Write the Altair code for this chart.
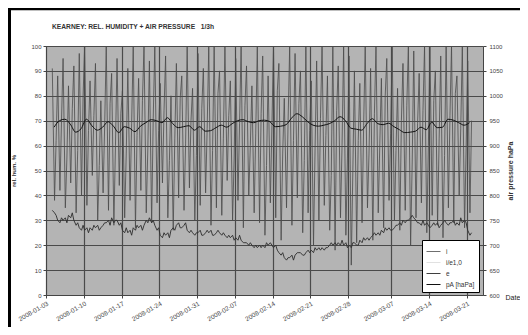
import altair as alt
import pandas as pd

# daily sample dates (humidity max ~04h, min ~14h, evening ~21h; pressure at noon)
days = pd.date_range("2008-01-04", "2008-03-21", freq="D")

rh_max = [91, 88, 95, 84, 92, 97, 100, 86, 93, 78, 100, 89, 95, 82, 91, 100, 87, 100, 94, 100,
          85, 96, 80, 93, 88, 100, 83, 97,
          91, 100, 100, 90, 100, 86, 95, 100, 92, 84, 100, 96, 88, 100, 93, 79, 100, 97, 90, 100,
          86, 94, 100, 88, 100, 92, 100, 96, 90,
          85, 100, 91, 100, 87, 95, 100, 83, 93, 100, 98, 89, 100, 100, 90, 96, 100, 100, 88, 100, 94]
rh_min = [38, 42, 35, 45, 33, 40, 36, 48, 30, 41, 34, 28, 44, 31, 38, 27, 42, 33, 29, 37,
          45, 31, 26, 39, 34, 43, 30, 36,
          41, 28, 35, 32, 46, 30, 38, 27, 40, 33, 29, 24, 37, 31, 22, 35, 28, 39, 25, 33,
          20, 30, 36, 26, 18, 31, 24, 12, 21,
          29, 35, 22, 33, 27, 38, 30, 26, 34, 20, 31, 37, 25, 32, 28, 23, 35, 29, 40, 27, 33]
rh_eve = [62, 70, 55, 75, 58, 80, 66, 72, 52, 68, 77, 60, 73, 57, 69, 64, 78, 59, 71, 66,
          74, 54, 63, 79, 61, 70, 56, 75,
          67, 58, 81, 63, 72, 55, 69, 76, 60, 65, 73, 52, 68, 82, 57, 70, 62, 77, 54, 66,
          59, 71, 64, 48, 74, 60, 55, 50, 62,
          68, 57, 73, 61, 80, 65, 58, 70, 76, 53, 69, 74, 60, 78, 63, 56, 72, 81, 67, 59, 70]
e_am = [34, 30, 30, 32, 30, 27, 26, 27, 27, 27, 29, 31, 30, 26, 25, 27, 27, 28, 31, 28,
        24, 24, 26, 28, 27, 26, 25, 25,
        24, 25, 24, 25, 24, 23, 23, 22, 21, 20, 19, 20, 20, 19, 17, 15, 15, 16, 17, 17,
        18, 18, 19, 19, 20, 21, 20, 20, 21,
        22, 22, 23, 24, 26, 26, 26, 28, 30, 30, 31, 29, 28, 27, 28, 28, 29, 29, 29, 29, 26]
e_pm = [33, 29, 31, 31, 28, 26, 27, 26, 28, 28, 30, 29, 28, 25, 26, 26, 28, 30, 29, 26,
        23, 25, 27, 29, 28, 25, 24, 26,
        25, 26, 25, 24, 23, 24, 22, 21, 20, 19, 20, 19, 21, 20, 16, 14, 16, 17, 16, 18,
        17, 19, 18, 20, 21, 20, 21, 19, 20,
        21, 23, 24, 25, 25, 27, 27, 29, 29, 31, 30, 28, 29, 28, 29, 29, 28, 30, 28, 30, 24]
e_eve = [32, 31, 29, 33, 29, 28, 25, 28, 26, 29, 28, 30, 29, 27, 24, 28, 26, 29, 30, 27,
         25, 23, 26, 27, 29, 26, 25, 24,
         26, 24, 26, 25, 24, 22, 24, 21, 21, 20, 19, 21, 20, 18, 17, 15, 14, 17, 16, 17,
         19, 18, 19, 21, 20, 22, 19, 21, 20,
         23, 22, 25, 24, 27, 26, 28, 28, 30, 32, 29, 30, 28, 29, 27, 30, 29, 28, 31, 29, 25]
pressure = [937, 950, 953, 943, 927, 934, 953, 940, 931, 937, 948, 939, 926, 938, 935, 928, 939, 946, 952, 950,
            946, 956, 944, 936, 938, 940, 931, 938,
            929, 930, 936, 941, 937, 944, 950, 952, 948, 946, 950, 951, 948, 938, 939, 942, 955, 964, 958, 948,
            941, 939, 941, 944, 950, 958, 950, 935, 933,
            931, 944, 954, 944, 942, 945, 938, 932, 926, 927, 929, 937, 932, 947, 936, 937, 953, 951, 946, 941, 946]

series_names = ["i", "i/e1,0", "e", "pA [haPa]"]
series_colors = ["#4a4a4a", "#dcdcdc", "#303030", "#111111"]
series_widths = [0.8, 1.0, 1.2, 3.6]

tick_dates = ["2008-01-03", "2008-01-10", "2008-01-17", "2008-01-24", "2008-01-31", "2008-02-07",
              "2008-02-14", "2008-02-21", "2008-02-28", "2008-03-07", "2008-03-14", "2008-03-21"]

rows = []
for d, hi, lo, ev, ea, ep, ee in zip(days, rh_max, rh_min, rh_eve, e_am, e_pm, e_eve):
    t1 = d + pd.Timedelta(hours=4)
    t2 = d + pd.Timedelta(hours=14)
    t3 = d + pd.Timedelta(hours=21)
    rows += [{"t": t1, "v": hi, "s": "i"}, {"t": t2, "v": lo, "s": "i"}, {"t": t3, "v": ev, "s": "i"},
             {"t": t1, "v": ea, "s": "e"}, {"t": t2, "v": ep, "s": "e"}, {"t": t3, "v": ee, "s": "e"}]
left_df = pd.DataFrame(rows)
press_df = pd.DataFrame({"t": days + pd.Timedelta(hours=12), "v": pressure, "s": "pA [haPa]"})


def dt(s):
    y, m, dd = s.split("-")
    return alt.DateTime(year=int(y), month=int(m), date=int(dd))


FONT = "Liberation Sans"

x_enc = alt.X(
    "t:T",
    scale=alt.Scale(domain=[dt("2008-01-03"), dt("2008-03-24")]),
    axis=alt.Axis(
        values=[dt(s) for s in tick_dates], format="%Y-%m-%d", labelAngle=330,
        labelAlign="right", labelBaseline="top", labelFontSize=6.5, labelColor="#444",
        labelPadding=2, tickSize=3, tickColor="#444", domainColor="#444",
        grid=True, gridColor="#4a4a4a", gridWidth=1.2,
        title="Date", titleX=459, titleY=4, titleAlign="left", titleBaseline="alphabetic",
        titleFontSize=7, titleFontWeight="normal", titleColor="#222", labelFont=FONT, titleFont=FONT,
    ),
)

legend = alt.Legend(orient="none", legendX=376, legendY=194, title=None, fillColor="white",
                    strokeColor="black", padding=4, labelFontSize=6.5, labelColor="#333",
                    labelFont=FONT, labelOffset=5, symbolType="stroke", symbolSize=196, rowPadding=0)
color_enc = alt.Color("s:N", scale=alt.Scale(domain=series_names, range=series_colors), legend=legend)
width_enc = alt.StrokeWidth("s:N", scale=alt.Scale(domain=series_names, range=series_widths), legend=legend)

left = alt.Chart(left_df).mark_line().encode(
    x=x_enc,
    y=alt.Y("v:Q", scale=alt.Scale(domain=[0, 100]),
            axis=alt.Axis(values=list(range(0, 101, 10)), grid=True, gridColor="#4a4a4a",
                          gridWidth=1.2, labelFontSize=6, labelColor="#444", labelFont=FONT,
                          tickSize=3, tickColor="#444", domainColor="#444", labelPadding=2,
                          title="rel. hum. %", titleFontSize=6, titleFont=FONT,
                          titleFontWeight="bold", titleColor="#333", titlePadding=14)),
    color=color_enc,
    strokeWidth=width_enc,
    detail="s:N",
)

right = alt.Chart(press_df).mark_line(interpolate="monotone").encode(
    x=x_enc,
    y=alt.Y("v:Q", scale=alt.Scale(domain=[600, 1100]),
            axis=alt.Axis(orient="right", values=list(range(600, 1101, 50)), format="d", grid=False,
                          labelFontSize=6, labelColor="#444", labelFont=FONT, tickSize=3,
                          tickColor="#444", domainColor="#444", labelPadding=3,
                          title="air pressure haPa", titleAngle=270, titleBaseline="top",
                          titleFontSize=7, titleFont=FONT, titleFontWeight="bold",
                          titleColor="#333", titlePadding=4)),
    color=color_enc,
    strokeWidth=width_enc,
)

# black picture frame on the top and left edges
frame_df = pd.DataFrame({"k": [0]})
frame_left = alt.Chart(frame_df).mark_rule(color="black", strokeWidth=3).encode(
    x=alt.value(-36.5), y=alt.value(-38), y2=alt.value(281))
frame_top = alt.Chart(frame_df).mark_rule(color="black", strokeWidth=2.5).encode(
    x=alt.value(-38), x2=alt.value(474), y=alt.value(-37))

chart = alt.layer(left, right, frame_left, frame_top).resolve_scale(y="independent").properties(
    width=437, height=249,
    background="white",
    autosize=alt.AutoSizeParams(type="none"),
    title=alt.TitleParams("KEARNEY: REL. HUMIDITY + AIR PRESSURE\u00a0\u00a0\u00a01/3h", anchor="start",
                          frame="group", fontSize=6.7, font=FONT, fontWeight="bold",
                          color="#333", dx=6, dy=31, offset=7),
    padding={"left": 38, "top": 38, "right": 37, "bottom": 32},
).configure_view(fill="#b4b4b4", stroke=None)

chart.save("out.html", embed_options={"renderer": "svg", "actions": False})
